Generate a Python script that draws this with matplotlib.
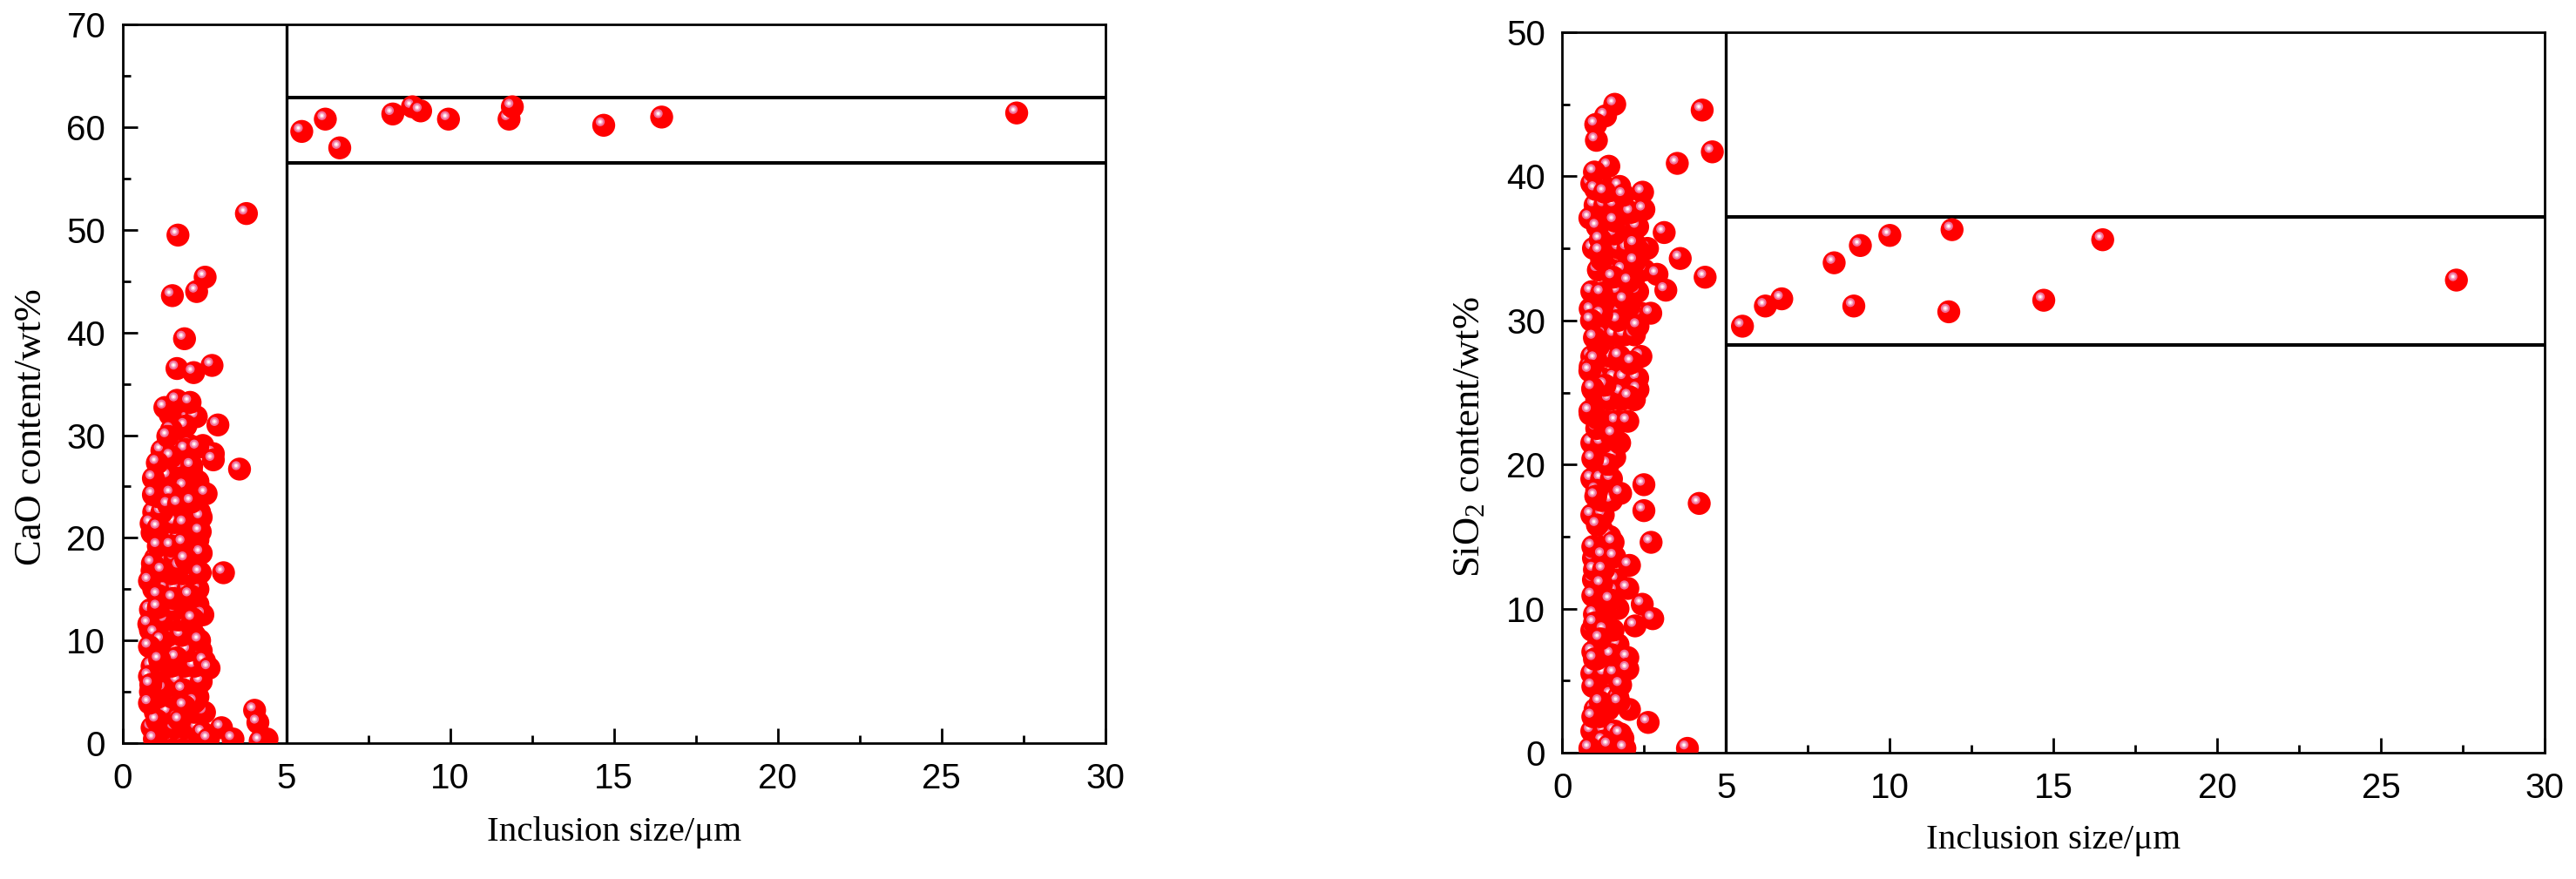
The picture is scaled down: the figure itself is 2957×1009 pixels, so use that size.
import matplotlib
matplotlib.use("Agg")
import matplotlib.pyplot as plt
from matplotlib.transforms import offset_copy
from matplotlib.ticker import MultipleLocator

plt.rcParams['mathtext.fontset'] = 'custom'
plt.rcParams['mathtext.rm'] = 'Liberation Serif'
plt.rcParams['mathtext.it'] = 'Liberation Serif:italic'

# ---- CaO panel data (inclusion size um, CaO wt%) ----
cao_small_x = [3.78, 1.69, 2.52, 1.52, 2.26, 1.89, 1.66, 2.17, 2.73, 1.29, 1.66, 2.06,
               2.91, 1.93, 1.49, 1.38, 1.93, 2.77, 2.29, 1.49, 1.06, 2.11, 2.77, 3.57,
               0.94, 0.94, 1.89, 1.49, 2.55, 1.40, 1.71, 2.11, 0.87, 1.09, 1.89, 2.37,
               1.09, 1.49, 1.86, 1.93, 0.91, 1.22, 2.37, 3.08, 0.82, 1.09, 1.55, 2.06,
               1.09, 2.15, 0.80, 1.00, 1.20, 0.82, 1.13, 2.64, 0.82, 0.86, 0.82, 1.89,
               1.75, 4.03, 4.13, 3.02, 0.97, 2.62, 3.37, 4.41, 4.20]
cao_small_y = [51.6, 49.5, 45.4, 43.6, 44.0, 39.4, 36.5, 36.1, 36.8, 32.7, 33.4, 33.2,
               31.0, 30.9, 30.5, 29.9, 28.6, 28.2, 28.8, 27.9, 27.3, 27.0, 27.6, 26.7,
               25.8, 24.2, 25.0, 24.3, 24.3, 23.2, 23.3, 23.5, 21.4, 21.0, 21.4, 20.6,
               19.2, 19.2, 19.5, 17.9, 17.5, 16.8, 16.6, 16.6, 15.8, 14.4, 14.1, 14.4,
               13.2, 12.1, 11.6, 10.7, 10.0, 9.4, 8.1, 7.3, 6.5, 5.7, 3.9, 3.6,
               2.2, 3.2, 2.0, 1.5, 0.4, 0.4, 0.4, 0.4, 0.2]
# points hidden inside the dense cluster
cao_fill_x = [1.2, 1.5, 1.8, 2.1, 2.4, 0.9, 1.3, 1.6, 2.0, 2.3, 1.0, 1.4, 2.2, 2.5,
              1.1, 1.5, 1.9, 2.3, 1.0, 1.3, 1.7, 2.1, 2.4, 0.9, 1.5, 1.9, 2.2,
              1.3, 1.7, 2.0, 2.4, 1.4, 1.8, 2.2, 0.9, 1.3, 1.7, 1.95, 1.45, 1.8, 2.3,
              0.95, 1.3, 1.65, 2.0, 2.3, 1.5, 1.85, 2.1, 1.0, 1.3, 1.6, 2.2,
              1.45, 1.75, 2.05, 2.3, 1.3, 1.6, 2.2, 0.95, 1.2, 1.9, 2.35, 1.1, 2.0,
              1.25, 1.6, 2.3, 2.05, 1.5, 1.8, 1.7, 2.05, 2.45, 1.75, 2.0,
              1.05, 1.7, 2.45, 0.85, 1.25, 1.85, 2.2, 1.15, 1.65, 2.5, 1.0, 2.1,
              1.6, 1.15, 2.1, 0.9, 1.75, 1.1, 2.4, 0.9, 1.85, 1.6, 2.4, 1.4,
              2.1, 1.2, 1.45, 2.25, 0.85, 0.85, 2.45, 2.35]
cao_fill_y = [0.5, 0.5, 0.5, 0.5, 0.5, 1.5, 1.5, 1.5, 1.5, 1.5, 3.0, 3.0, 3.0, 3.0,
              4.5, 4.5, 4.5, 4.5, 6.0, 6.0, 6.0, 6.0, 6.0, 7.5, 7.5, 7.5, 7.5,
              9.0, 9.0, 9.0, 9.0, 10.5, 10.5, 10.5, 12.0, 12.0, 12.0, 12.0, 13.5, 13.5, 13.5,
              15.0, 15.0, 15.0, 15.0, 15.0, 16.5, 16.5, 16.5, 18.0, 18.0, 18.0, 18.0,
              19.8, 19.8, 19.8, 19.8, 21.5, 21.5, 21.5, 22.5, 22.5, 22.5, 22.5, 24.0, 24.0,
              25.5, 25.5, 25.5, 25.5, 27.0, 27.0, 29.0, 29.0, 29.0, 31.5, 31.5,
              2.2, 2.4, 1.0, 5.0, 5.3, 5.2, 4.0, 7.0, 8.3, 8.0, 9.8, 11.5,
              13.0, 13.8, 14.0, 16.8, 17.2, 19.8, 18.5, 20.5, 22.8, 23.8, 22.0, 26.0,
              26.5, 28.5, 32.0, 31.8, 11.0, 13.0, 12.5, 10.0]
cao_large_x = [5.47, 6.19, 6.63, 8.25, 8.85, 9.1, 9.95, 11.8, 11.9, 14.69, 16.46, 27.3]
cao_large_y = [59.6, 60.8, 58.0, 61.3, 62.0, 61.6, 60.8, 60.8, 62.0, 60.2, 61.0, 61.4]
cao_band = [56.5, 62.9]

# ---- SiO2 panel data ----
sio2_small_x = [1.60, 1.32, 1.02, 1.04, 4.27, 4.58, 3.51, 1.42, 0.98, 1.02, 1.29, 1.87,
                2.45, 2.49, 0.84, 1.60, 1.07, 3.11, 1.16, 2.22, 1.16, 3.60, 2.22, 4.36,
                2.89, 2.04, 3.16, 1.20, 1.91, 0.89, 1.20, 0.89, 2.31, 0.98, 2.13, 1.02,
                0.84, 2.31, 0.93, 0.93, 2.05, 1.07, 0.84, 1.55, 0.93, 1.02, 1.78, 2.49,
                2.49, 4.18, 1.07, 2.71, 0.93, 1.55, 1.24, 1.60, 2.05, 0.98, 1.26, 1.20,
                2.00, 0.93, 1.47, 2.44, 0.98, 2.76, 2.22, 0.98, 1.29, 1.16, 0.93, 0.98,
                2.00, 2.00, 0.93, 1.78, 1.73, 1.16, 0.93, 2.62, 1.78, 0.84, 1.42, 1.91,
                3.82]
sio2_small_y = [45.0, 44.2, 43.6, 42.5, 44.6, 41.7, 40.9, 40.7, 40.3, 39.1, 38.9, 38.7,
                38.9, 37.7, 37.1, 36.9, 36.5, 36.1, 35.6, 35.3, 34.8, 34.3, 34.1, 33.0,
                33.2, 32.7, 32.1, 31.9, 31.4, 30.7, 30.4, 30.0, 29.6, 28.8, 27.1, 27.3,
                26.5, 25.2, 25.2, 25.3, 24.7, 23.2, 23.7, 22.1, 20.4, 17.8, 18.0, 18.6,
                16.8, 17.3, 15.8, 14.6, 14.3, 14.6, 13.7, 13.6, 13.0, 12.7, 12.7, 11.7,
                11.4, 10.9, 10.6, 10.3, 9.6, 9.3, 8.8, 9.0, 8.5, 7.9, 7.0, 6.5,
                6.6, 5.8, 4.6, 4.7, 3.5, 3.5, 2.5, 2.1, 1.3, 0.3, 0.5, 0.3,
                0.3]
sio2_fill_x = [1.1, 1.6, 0.9, 1.3, 1.6, 1.0, 1.4, 2.05, 1.2, 1.5, 0.9, 1.3, 1.6,
               1.1, 1.45, 1.7, 0.9, 1.55, 1.1, 1.35, 1.7, 0.95, 1.45, 1.65, 0.95, 1.35,
               1.2, 0.9, 1.25, 1.2, 1.5, 0.9, 1.2, 1.5, 1.25, 1.6, 0.9, 1.2, 1.75,
               1.3, 1.65, 2.0, 1.05, 1.45, 1.8, 2.2, 1.2, 1.6, 1.9, 2.3,
               0.9, 1.45, 1.75, 2.4, 1.25, 1.6, 1.9, 2.2, 1.5, 1.8, 2.4, 2.7,
               0.9, 1.4, 1.7, 2.3, 1.1, 1.5, 1.85, 2.5, 0.95, 1.4, 1.75, 2.0, 2.6,
               1.3, 1.9, 2.3, 1.0, 1.3, 1.6, 2.0, 2.3, 0.9, 1.2,
               1.25, 1.85, 1.15, 1.7, 1.05, 1.5, 1.25, 1.6, 1.2, 1.15, 1.45, 1.05,
               1.4, 1.05, 1.5, 1.8, 1.3, 2.05, 1.1, 1.7, 2.05, 1.2, 1.55, 2.2,
               1.2, 1.6, 1.05, 2.1, 1.45, 1.75, 2.35, 0.85, 0.85, 0.85]
sio2_fill_y = [0.5, 0.5, 1.5, 1.5, 1.5, 3.0, 3.0, 3.0, 4.0, 4.0, 5.5, 5.5, 5.5,
               7.5, 7.5, 7.5, 8.5, 8.5, 10.0, 10.0, 10.0, 12.0, 12.0, 12.0, 13.5, 13.5,
               15.5, 16.5, 16.5, 17.5, 17.5, 19.0, 19.0, 19.0, 20.5, 20.5, 21.5, 21.5, 21.5,
               23.0, 23.0, 23.0, 24.5, 24.5, 24.5, 24.5, 26.0, 26.0, 26.0, 26.0,
               27.5, 27.5, 27.5, 27.5, 29.0, 29.0, 29.0, 29.0, 30.5, 30.5, 30.5, 30.5,
               32.0, 32.0, 32.0, 32.0, 33.5, 33.5, 33.5, 33.5, 35.0, 35.0, 35.0, 35.0, 35.0,
               36.5, 36.5, 36.5, 38.0, 38.0, 38.0, 38.0, 38.0, 39.5, 39.5,
               0.8, 1.0, 2.5, 3.8, 6.5, 6.8, 9.0, 11.2, 12.8, 14.5, 15.0, 18.2,
               20.0, 22.5, 22.0, 25.0, 25.5, 27.0, 28.2, 30.0, 31.0, 31.2, 33.0, 33.0,
               34.2, 36.0, 37.0, 37.5, 39.0, 39.3, 34.8, 23.5, 26.8, 30.8]
sio2_large_x = [5.5, 6.2, 6.7, 8.3, 8.9, 9.1, 10.0, 11.8, 11.9, 14.7, 16.5, 27.3]
sio2_large_y = [29.6, 31.0, 31.5, 34.0, 31.0, 35.2, 35.9, 30.6, 36.3, 31.4, 35.6, 32.8]
sio2_band = [28.3, 37.2]

size_split = 5


def balls(ax, fig, x, y, z0):
    # each point is a red sphere with a pink/white highlight up-left;
    # drawn one by one so later spheres cover earlier highlights
    hl = offset_copy(ax.transData, fig=fig, x=-4, y=4, units='dots')
    for i, (xi, yi) in enumerate(zip(x, y)):
        z = z0 + i * 0.01
        ax.scatter([xi], [yi], s=360, c='#ff0000', edgecolors='none', zorder=z)
        ax.scatter([xi], [yi], s=55, c='#f0709a', edgecolors='none', zorder=z + 0.002, transform=hl)
        ax.scatter([xi], [yi], s=20, c='#fbb5cb', edgecolors='none', zorder=z + 0.004, transform=hl)
        ax.scatter([xi], [yi], s=5, c='white', edgecolors='none', zorder=z + 0.006, transform=hl)
    return z0 + len(x) * 0.01


def style(ax, ymax, ylabel, ylab_x, ylab_y, xlab_y):
    ax.set_xlim(0, 30)
    ax.set_ylim(0, ymax)
    ax.xaxis.set_major_locator(MultipleLocator(5))
    ax.xaxis.set_minor_locator(MultipleLocator(2.5))
    ax.yaxis.set_major_locator(MultipleLocator(10))
    ax.yaxis.set_minor_locator(MultipleLocator(5))
    ax.tick_params(which='both', direction='in', top=False, right=False, width=2,
                   labelsize=29, labelfontfamily='Liberation Sans')
    ax.tick_params(which='major', length=12.5)
    ax.tick_params(which='minor', length=6.2)
    ax.tick_params(axis='x', which='major', pad=16)
    ax.tick_params(axis='y', which='major', pad=14)
    for sp in ax.spines.values():
        sp.set_linewidth(2)
    ax.set_xlabel('Inclusion size/\u03bcm', fontfamily='Liberation Serif', fontsize=29.5)
    ax.set_ylabel(ylabel, fontfamily='Liberation Serif', fontsize=32)
    ax.xaxis.set_label_coords(0.5, xlab_y)
    ax.yaxis.set_label_coords(ylab_x, ylab_y)


fig = plt.figure(figsize=(29.57, 10.09), dpi=100)
ax1 = fig.add_axes([0.0476, 0.1546, 0.3814, 0.8173])
ax2 = fig.add_axes([0.6065, 0.1437, 0.3814, 0.8196])

z = balls(ax1, fig, cao_fill_x, cao_fill_y, 3)
z = balls(ax1, fig, cao_small_x, cao_small_y, z)
balls(ax1, fig, cao_large_x, cao_large_y, z)
ax1.axvline(size_split, color='black', lw=2.4, zorder=2)
ax1.hlines(cao_band, size_split, 30, color='black', lw=2.9, zorder=2)
style(ax1, 70, 'CaO content/wt%', -0.075, 0.44, -0.102)

z = balls(ax2, fig, sio2_fill_x, sio2_fill_y, 3)
z = balls(ax2, fig, sio2_small_x, sio2_small_y, z)
balls(ax2, fig, sio2_large_x, sio2_large_y, z)
ax2.axvline(size_split, color='black', lw=2.4, zorder=2)
ax2.hlines(sio2_band, size_split, 30, color='black', lw=2.9, zorder=2)
style(ax2, 50, r'SiO$_\mathrm{2}$ content/wt%', -0.077, 0.438, -0.099)

fig.savefig('out.png', dpi=100)
